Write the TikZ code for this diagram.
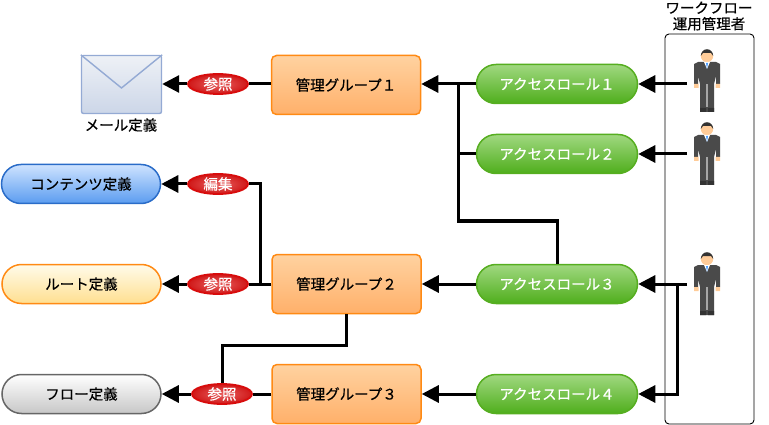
\documentclass[tikz,border=0pt]{standalone}
\usepackage{fontspec}
\setmainfont[FakeBold=0.5]{Noto Sans CJK JP}
\usetikzlibrary{arrows.meta, shapes.geometric}

\definecolor{grpline}{HTML}{FF8A14}
\definecolor{grptop}{HTML}{FFD2A0}
\definecolor{grpbot}{HTML}{FFB06A}
\definecolor{roleline}{HTML}{56AE20}
\definecolor{roletop}{HTML}{A0D880}
\definecolor{rolebot}{HTML}{4FAE1C}
\definecolor{refline}{HTML}{D80C0C}
\definecolor{refin}{HTML}{E86060}
\definecolor{refout}{HTML}{D01818}
\definecolor{mailline}{HTML}{94AAD4}
\definecolor{mailtop}{HTML}{EEF1F6}
\definecolor{mailbot}{HTML}{CCD6E8}
\definecolor{contline}{HTML}{2A6CC8}
\definecolor{conttop}{HTML}{CFE3FF}
\definecolor{contbot}{HTML}{5A9CF0}
\definecolor{routetop}{HTML}{FFFBEA}
\definecolor{routebot}{HTML}{FFDF90}
\definecolor{suit}{HTML}{4A4A4A}
\definecolor{skin}{HTML}{FFCC99}

\tikzset{
    grpbox/.style={draw=grpline, line width=1.5pt, rounded corners=5pt, top color=grptop, bottom color=grpbot, minimum width=149pt, minimum height=59pt, inner sep=0pt, text=black},
    rolepill/.style={draw=roleline, line width=1.5pt, rounded corners=19.5pt, top color=roletop, bottom color=rolebot, minimum width=161pt, minimum height=39pt, inner sep=0pt, text=white},
    defpill/.style={line width=1.5pt, rounded corners=19.5pt, minimum width=159pt, minimum height=39pt, inner sep=0pt, text=black},
    refoval/.style={ellipse, draw=refline, line width=1.8pt, inner color=refin, outer color=refout, minimum width=60pt, minimum height=20pt, inner sep=0pt, text=white},
    conn/.style={line width=3pt},
    arr/.style={conn, -{Triangle[length=17pt, width=17pt]}},
    person/.pic={
        %suit and legs
        \fill[suit] (-13,16) -- (-9,14) -- (9,14) -- (13,16) -- (13,36) -- (9,36) -- (9,28) -- (7,36) -- (7,64) -- (-7,64) -- (-7,36) -- (-9,28) -- (-9,36) -- (-13,36) -- cycle;
        \fill[black!80] (-7,60) rectangle (-1,64) (1,60) rectangle (7,64);
        \fill[black!35] (-1,36) rectangle (1,59);
        %hands and head
        \fill[skin] (-13,36) rectangle (-8.5,40) (8.5,36) rectangle (13,40);
        \fill[skin] (0,8) circle (6.2);
        \fill[black!80] (-6.2,8) arc (180:360:6.2 and 6.8) -- (4,5) -- (-4,5) -- cycle;
        %shirt and tie
        \fill[white] (-3,14) -- (3,14) -- (0,21) -- cycle;
        \fill[blue!55!cyan!70!white] (-1,15) -- (1,15) -- (0,21) -- cycle;
    }
}

\begin{document}
\begin{tikzpicture}[x=1pt, y=-1pt, font=\fontsize{14.5}{16}\selectfont]
    \useasboundingbox (0,0) rectangle (769,425);

    %administrators
    \node[draw, line width=0.9pt, rounded corners=4pt, minimum width=89pt, minimum height=390pt, inner sep=0pt] (admin) at (709.5,229) {};
    \node[align=center, inner sep=0pt] (admintitle) at (709,16) {ワークフロー\\運用管理者};
    \foreach \py in {48,121,251}
    {
        \pic at (707,\py) {person};
    }
    \coordinate (p1) at (687,84);
    \coordinate (p2) at (687,154);
    \coordinate (p3) at (687,284);
    \coordinate (p3j) at (677,284);

    %definitions
    \node[draw=mailline, line width=1.4pt, rounded corners=2pt, top color=mailtop, bottom color=mailbot, minimum width=80pt, minimum height=58pt, inner sep=0pt] (mail) at (121.5,84.5) {};
    \draw[draw=mailline, line width=1.4pt] (mail.north west) -- (121.5,88) -- (mail.north east);
    \node[inner sep=0pt] (maillabel) at (121,125) {メール定義};
    \node[defpill, draw=contline, top color=conttop, bottom color=contbot] (content) at (81,184) {コンテンツ定義};
    \node[defpill, draw=grpline, top color=routetop, bottom color=routebot] (route) at (81.5,284) {ルート定義};
    \node[defpill, draw=black!60, top color=white, bottom color=black!22] (flow) at (81.5,394) {フロー定義};

    %management groups
    \node[grpbox] (grp1) at (346,85) {管理グループ１};
    \node[grpbox] (grp2) at (346.5,284) {管理グループ２};
    \node[grpbox] (grp3) at (346.5,394) {管理グループ３};

    %access roles
    \node[rolepill] (role1) at (557,84) {アクセスロール１};
    \node[rolepill] (role2) at (557,154) {アクセスロール２};
    \node[rolepill] (role3) at (557,284) {アクセスロール３};
    \node[rolepill] (role4) at (557,394) {アクセスロール４};

    %connectors
    \coordinate (jroles) at (458,84);
    \coordinate (jcross) at (458,221);
    \coordinate (jcontent) at (260,284);
    \coordinate (jflow) at (222,345);
    \draw[arr] (p1) -- (role1.east);
    \draw[arr] (p2) -- (role2.east);
    \draw[arr] (p3) -- (role3.east);
    \draw[arr] (p3j) |- (role4.east);
    \draw[arr] (role1.west) -- (role1.west -| grp1.east);
    \draw[conn] (role2.west) -| (jroles);
    \draw[conn] (role3.north) |- (jcross) -- (jroles);
    \draw[arr] (role3.west) -- (grp2.east);
    \draw[arr] (role4.west) -- (grp3.east);

    %references
    \node[refoval] (ref1) at (218,84) {参照};
    \node[refoval] (ref2) at (218,184) {編集};
    \node[refoval] (ref3) at (218,284) {参照};
    \node[refoval] (ref4) at (222,394) {参照};
    \draw[conn] (grp1.west |- ref1) -- (ref1.east);
    \draw[arr] (ref1.west) -- (mail.east |- ref1);
    \draw[conn] (grp2.west) -- (ref3.east);
    \draw[arr] (ref3.west) -- (route.east);
    \draw[conn] (jcontent) |- (ref2.east);
    \draw[arr] (ref2.west) -- (content.east);
    \draw[conn] (grp2.south) |- (jflow) -- (ref4.north);
    \draw[conn] (grp3.west) -- (ref4.east);
    \draw[arr] (ref4.west) -- (flow.east);
\end{tikzpicture}
\end{document}
